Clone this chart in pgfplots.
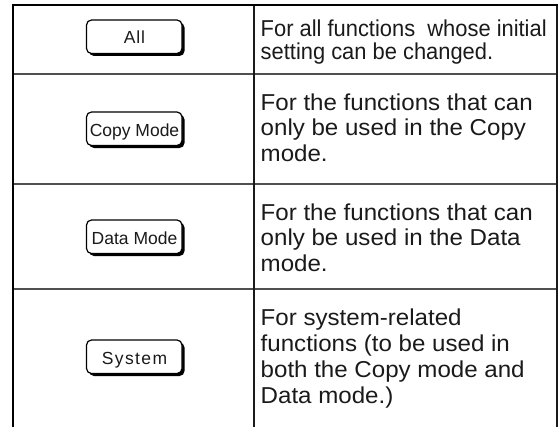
\documentclass[border=0pt]{standalone}
\usepackage{fontspec}
\setmainfont{Liberation Sans}
\usepackage{pgfplots}
\pgfplotsset{compat=1.18}
\usepackage{graphicx}
\definecolor{rule}{HTML}{505050}
\definecolor{ink}{HTML}{1A1A1A}
\newcommand{\btn}[3]{% center y, label, letterspace
  \fill[black,rounded corners=5bp] (axis cs:89,#1-15.5) rectangle (axis cs:184.5,#1+18);
  \filldraw[fill=white,draw=black,line width=1.2bp,rounded corners=5bp] (axis cs:86.5,#1-18) rectangle (axis cs:182,#1+15.5);
  \node[anchor=base,inner sep=0,text=ink] at (axis cs:134.5,#1+6) {\fontsize{17.5bp}{19bp}\selectfont\addfontfeature{LetterSpace=#3}#2};
}
\newcommand{\txt}[3][1.048]{% scale, y baseline, text
  \node[anchor=base west,inner sep=0,text=ink] at (axis cs:260.5,#2) {\fontsize{23bp}{25bp}\selectfont\scalebox{#1}[1]{#3}};
}
\begin{document}
\begin{tikzpicture}
\begin{axis}[name=ax,
  width=559bp,height=427bp,scale only axis,
  xmin=0,xmax=559,ymin=0,ymax=427,y dir=reverse,
  enlargelimits=false,
  hide axis,clip=false]
% table rules
\addplot[rule,line width=1.2bp,mark=none] coordinates {(13,74) (557,74)};
\addplot[rule,line width=1.2bp,mark=none] coordinates {(13,184) (557,184)};
\addplot[rule,line width=1.2bp,mark=none] coordinates {(13,289) (557,289)};
\addplot[ink,line width=1.1bp,mark=none] coordinates {(254,5) (254,427)};
\addplot[ink,line width=1.1bp,mark=none] coordinates {(557,5) (557,427)};
\addplot[black,line width=2.5bp,mark=none] coordinates {(11.8,5.2) (558,5.2)};
\addplot[black,line width=2.5bp,mark=none] coordinates {(13,4) (13,427)};
% buttons
\btn{38}{All}{5}
\btn{130}{Copy Mode}{0}
\btn{238}{Data Mode}{0}
\btn{358}{System}{8}
% descriptions
\txt[0.952]{37}{For all functions\ \ whose initial}
\txt[0.952]{60}{setting can be changed.}
\txt{110}{For the functions that can}
\txt{135.5}{only be used in the Copy}
\txt{161}{mode.}
\txt{220}{For the functions that can}
\txt{245.5}{only be used in the Data}
\txt{271}{mode.}
\txt{325}{For system-related}
\txt{351}{functions (to be used in}
\txt{377}{both the Copy mode and}
\txt{403}{Data mode.)}
\end{axis}
\pgfresetboundingbox
\path (ax.south west) rectangle (ax.north east);
\end{tikzpicture}
\end{document}
